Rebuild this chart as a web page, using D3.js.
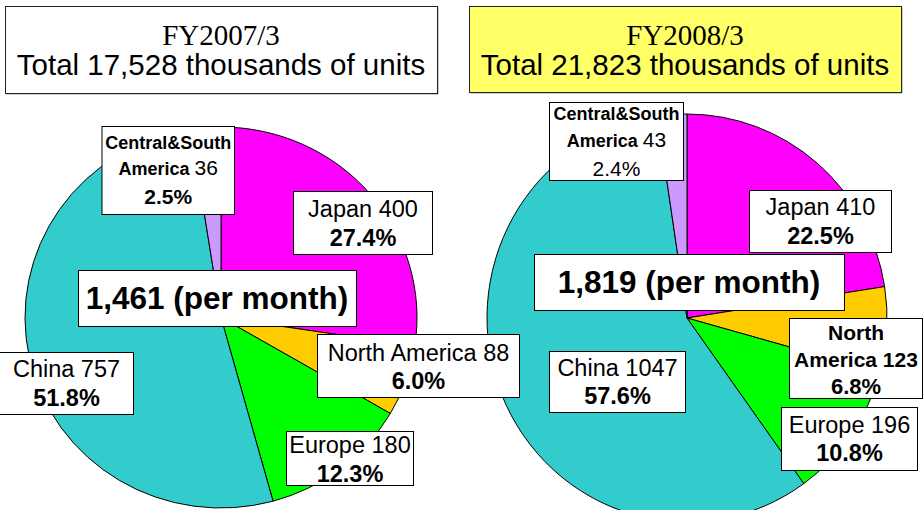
<!DOCTYPE html>
<html>
<head>
<meta charset="utf-8">
<script src="https://cdn.jsdelivr.net/npm/d3@7"></script>
<style>
  body { margin: 0; background: #fff; }
  svg { display: block; }
  text { font-family: "Liberation Sans", Arial, sans-serif; fill: #000; }
  .serif { font-family: "Liberation Serif", "Times New Roman", serif; }
</style>
</head>
<body>
<svg id="chart" width="924" height="510"></svg>
<script>
// sales by region, thousands of units per month
var regions = ["Japan", "North America", "Europe", "China", "Central&South America"];
var colors = ["#FF00FF", "#FFCC00", "#00FF00", "#33CCCC", "#CC99FF"];
var units2007 = [400, 88, 180, 757, 36];
var units2008 = [410, 123, 196, 1047, 43];
var fiscalYears = ["FY2007/3", "FY2008/3"];
var annualTotals = ["17,528", "21,823"];

// placement of each pie and its label boxes
var layouts = [
  {
    values: units2007, cx: 221, cy: 317.5, rx: 196, ry: 190.5,
    title: { x: 5, y: 6, w: 432, h: 87, fill: "#fff", base: [45, 75] },
    month: { x: 78, y: 270, w: 278, h: 56, base: 309 },
    labels: [
      { box: [293, 191, 139, 63], base: [217, 246], kind: "std" },
      { box: [317, 334, 202, 63], base: [361, 389], kind: "std" },
      { box: [286, 431, 127, 54], base: [453, 482], kind: "std" },
      { box: [-1, 352, 134, 62], base: [377, 406], kind: "std" },
      { box: [101.5, 126, 132.5, 88], base: [149, 175, 204], kind: "csa", pctBold: true }
    ]
  },
  {
    values: units2008, cx: 687, cy: 318, rx: 200, ry: 204,
    title: { x: 469, y: 6, w: 432, h: 86, fill: "#FFFF66", base: [45, 75] },
    month: { x: 534, y: 254, w: 310, h: 56, base: 293 },
    labels: [
      { box: [749, 190, 142, 62], base: [215, 244], kind: "std" },
      { box: [789, 318, 133, 80], base: [340, 367, 394], kind: "na" },
      { box: [781, 407, 136, 63], base: [433, 461], kind: "std" },
      { box: [549, 351, 136, 61], base: [376, 404], kind: "std" },
      { box: [549, 102, 134, 78], base: [120, 147, 176], kind: "csa", pctBold: false }
    ]
  }
];

var svg = d3.select("#chart");
var fmt = d3.format(",");
var pie = d3.pie().sort(null).value(function(d) { return d; });

function labelLines(spec, name, value, pct) {
  var parts = name.split(" ");
  if (spec.kind === "csa") {
    return [
      [{ t: parts[0], b: true, s: 18 }],
      [{ t: parts[1] + " ", b: true, s: 18 }, { t: value, b: false, s: 21 }],
      [{ t: pct, b: spec.pctBold, s: 21 }]
    ];
  }
  if (spec.kind === "na") {
    return [
      [{ t: parts[0], b: true, s: 21 }],
      [{ t: parts[1] + " " + value, b: true, s: 21 }],
      [{ t: pct, b: true, s: 22 }]
    ];
  }
  return [
    [{ t: name + " " + value, b: false, s: 23.5 }],
    [{ t: pct, b: true, s: 23.5 }]
  ];
}

// pies first so no label ends up underneath the other pie
var pieLayer = svg.append("g");
var labelLayer = svg.append("g");

layouts.forEach(function(L, k) {
  var total = d3.sum(L.values);
  var arc = d3.arc().innerRadius(0).outerRadius(L.rx);

  var g = pieLayer.append("g")
    .attr("transform", "translate(" + L.cx + "," + L.cy + ") scale(1," + (L.ry / L.rx) + ")");
  g.selectAll("path")
    .data(pie(L.values))
    .enter().append("path")
    .attr("d", arc)
    .attr("fill", function(d, i) { return colors[i]; })
    .attr("stroke", "#000")
    .attr("stroke-width", 1)
    .attr("vector-effect", "non-scaling-stroke");

  // region labels
  L.labels.forEach(function(spec, i) {
    var b = spec.box;
    var pct = (L.values[i] / total * 100).toFixed(1) + "%";
    labelLayer.append("rect")
      .attr("x", b[0] + 0.5).attr("y", b[1] + 0.5)
      .attr("width", b[2]).attr("height", b[3])
      .attr("fill", "#fff").attr("stroke", "#000");
    labelLines(spec, regions[i], L.values[i], pct).forEach(function(line, j) {
      var t = labelLayer.append("text")
        .attr("x", b[0] + b[2] / 2 + 0.5)
        .attr("y", spec.base[j])
        .attr("text-anchor", "middle");
      line.forEach(function(p) {
        t.append("tspan")
          .attr("font-size", p.s)
          .attr("font-weight", p.b ? "bold" : "normal")
          .text(p.t);
      });
    });
  });

  // per month box
  var m = L.month;
  labelLayer.append("rect")
    .attr("x", m.x + 0.5).attr("y", m.y + 0.5)
    .attr("width", m.w).attr("height", m.h)
    .attr("fill", "#fff").attr("stroke", "#000");
  labelLayer.append("text")
    .attr("x", m.x + m.w / 2).attr("y", m.base)
    .attr("text-anchor", "middle")
    .attr("font-size", 31.5).attr("font-weight", "bold")
    .text(fmt(total) + " (per month)");

  // title box
  var T = L.title;
  labelLayer.append("rect")
    .attr("x", T.x + 1.5).attr("y", T.y + 1.5)
    .attr("width", T.w).attr("height", T.h)
    .attr("fill", "#999");
  labelLayer.append("rect")
    .attr("x", T.x + 0.5).attr("y", T.y + 0.5)
    .attr("width", T.w).attr("height", T.h)
    .attr("fill", T.fill).attr("stroke", "#222");
  labelLayer.append("text")
    .attr("class", "serif")
    .attr("x", T.x + T.w / 2).attr("y", T.base[0])
    .attr("text-anchor", "middle")
    .attr("font-size", 29)
    .text(fiscalYears[k]);
  labelLayer.append("text")
    .attr("x", T.x + T.w / 2).attr("y", T.base[1])
    .attr("text-anchor", "middle")
    .attr("font-size", 29.5)
    .text("Total " + annualTotals[k] + " thousands of units");
});
</script>
</body>
</html>
